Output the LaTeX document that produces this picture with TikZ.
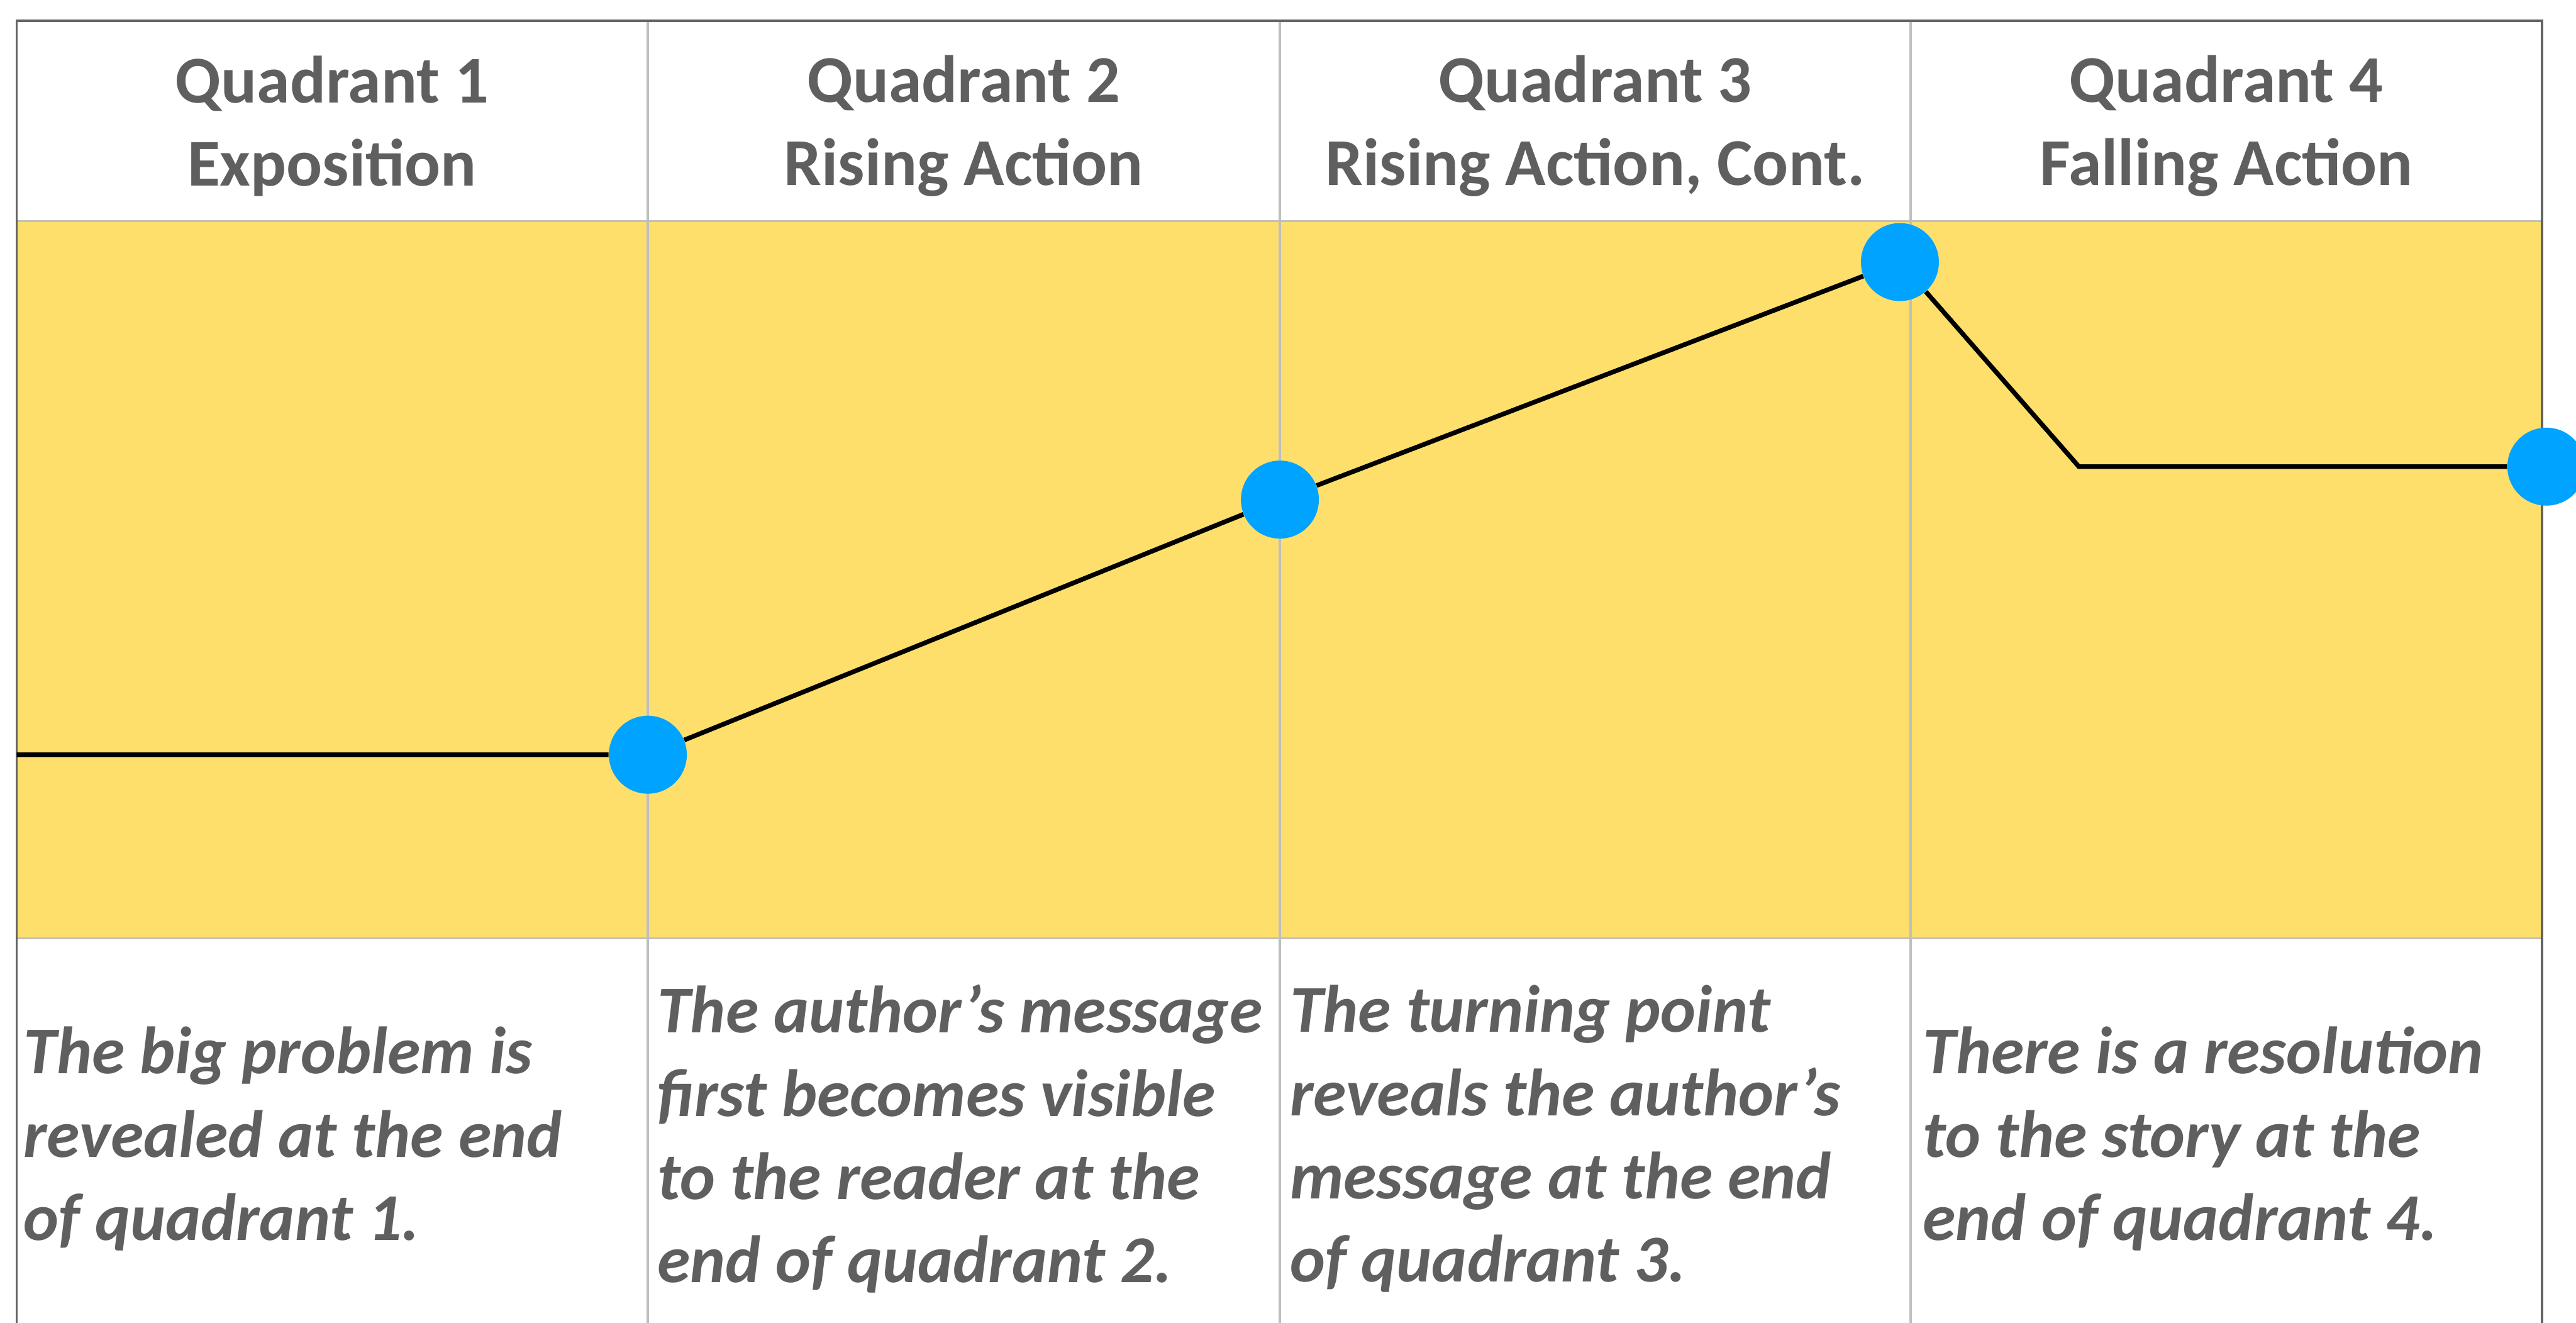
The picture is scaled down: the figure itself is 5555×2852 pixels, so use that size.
\documentclass[tikz,border=0pt]{standalone}
\usepackage{fontspec}
\setmainfont{Carlito}
\usetikzlibrary{positioning}

\definecolor{plotyellow}{RGB}{255,223,107}
\definecolor{dotblue}{RGB}{0,163,255}
\definecolor{txtgray}{RGB}{95,95,95}
\definecolor{gridgray}{RGB}{191,191,191}
\definecolor{framegray}{RGB}{100,100,100}

\begin{document}
\begin{tikzpicture}[x=0.01cm, y=-0.01cm,
  head/.style={text=txtgray, font=\fontsize{41}{51}\selectfont\bfseries, align=center},
  note/.style={text=txtgray, font=\fontsize{41}{51}\selectfont\bfseries\itshape, align=left, anchor=west, inner sep=0pt},
  dot/.style={circle, fill=dotblue, minimum size=1.68cm, inner sep=0pt},
  gridline/.style={gridgray, line width=0.045cm},
  plotline/.style={black, line width=0.1cm}]
  \useasboundingbox (0,0) rectangle (5555,2852);
  \clip (0,0) rectangle (5555,2852);

  % plot band
  \fill[plotyellow] (36,477) rectangle (5482,2023);

  % grid lines
  \foreach \x in {1397,2760,4120}
    \draw[gridline] (\x,45) -- (\x,2900);
  \draw[gridline] (36,477) -- (5482,477);
  \draw[gridline] (36,2023) -- (5482,2023);

  % outer frame
  \draw[framegray, line width=0.05cm] (36,2900) -- (36,45) -- (5482,45) -- (5482,2900);

  % headers
  \node[head] (h1) at (716,272)  {Quadrant 1\\Exposition};
  \node[head] (h2) at (2078,272) {Quadrant 2\\Rising Action};
  \node[head] (h3) at (3440,272) {Quadrant 3\\Rising Action, Cont.};
  \node[head] (h4) at (4801,272) {Quadrant 4\\Falling Action};

  % plot points
  \coordinate (start) at (36,1627);
  \node[dot] (d1) at (1397,1627) {};
  \node[dot] (d2) at (2760,1077) {};
  \node[dot] (d3) at (4097,565)  {};
  \coordinate (knee) at (4483,1006);
  \node[dot] (d4) at (5491,1006) {};
  \draw[plotline] (start) -- (d1) -- (d2) -- (d3) -- (knee) -- (d4);

  % notes
  \node[note] (n1) at (50,2455)   {The big problem is\\revealed at the end\\of quadrant 1.};
  \node[note] (n2) at (1417,2455) {The author’s message\\first becomes visible\\to the reader at the\\end of quadrant 2.};
  \node[note] (n3) at (2781,2455) {The turning point\\reveals the author’s\\message at the end\\of quadrant 3.};
  \node[note] (n4) at (4146,2455) {There is a resolution\\to the story at the\\end of quadrant 4.};
\end{tikzpicture}
\end{document}
